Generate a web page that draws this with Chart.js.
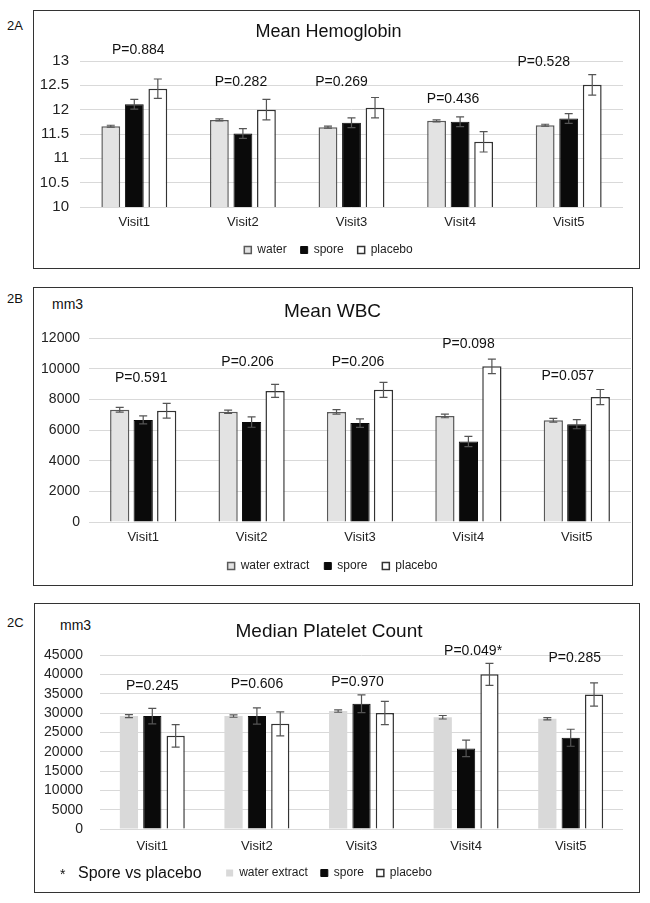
<!DOCTYPE html>
<html>
<head>
<meta charset="utf-8">
<script src="https://cdn.jsdelivr.net/npm/chart.js@4.4.1/dist/chart.umd.min.js"></script>
<style>
  body { margin: 0; background: #fff; font-family: 'Liberation Sans', Arial, sans-serif; color: #111; }
  .panel { position: absolute; border: 1px solid #333; }
  .panel canvas { display: block; }
  .txt { position: absolute; white-space: nowrap; line-height: 1; }
</style>
</head>
<body>
<div class="txt" style="left:7px;top:19px;font-size:13px">2A</div>
<div class="panel" style="left:33px;top:10px;width:605px;height:257px"><canvas id="chartA" width="605" height="257"></canvas></div>

<div class="txt" style="left:7px;top:292px;font-size:13px">2B</div>
<div class="txt" style="left:52px;top:297px;font-size:14px">mm3</div>
<div class="panel" style="left:33px;top:287px;width:598px;height:297px"><canvas id="chartB" width="598" height="297"></canvas></div>

<div class="txt" style="left:7px;top:616px;font-size:13px">2C</div>
<div class="txt" style="left:60px;top:618px;font-size:14px">mm3</div>
<div class="panel" style="left:34px;top:603px;width:604px;height:288px"><canvas id="chartC" width="604" height="288"></canvas></div>
<div class="txt" style="left:60px;top:867px;font-size:14px">*</div>
<div class="txt" style="left:78px;top:865px;font-size:16px">Spore vs placebo</div>

<script>
var visits = ['Visit1', 'Visit2', 'Visit3', 'Visit4', 'Visit5'];

// 2A Mean Hemoglobin
var hbWater = [11.66, 11.79, 11.64, 11.77, 11.68];
var hbWaterErr = [0.02, 0.02, 0.02, 0.02, 0.02];
var hbSpore = [12.11, 11.51, 11.73, 11.75, 11.82];
var hbSporeErr = [0.1, 0.1, 0.1, 0.1, 0.1];
var hbPlacebo = [12.43, 12.0, 12.04, 11.34, 12.51];
var hbPlaceboErr = [0.2, 0.21, 0.21, 0.21, 0.21];
var hbTicks = [10, 10.5, 11, 11.5, 12, 12.5, 13];
var hbP = ['P=0.884', 'P=0.282', 'P=0.269', 'P=0.436', 'P=0.528'];

// 2B Mean WBC
var wbcWater = [7320, 7190, 7180, 6920, 6640];
var wbcWaterErr = [150, 100, 150, 120, 120];
var wbcSpore = [6660, 6520, 6450, 5250, 6380];
var wbcSporeErr = [260, 340, 280, 330, 300];
var wbcPlacebo = [7260, 8550, 8620, 10150, 8150];
var wbcPlaceboErr = [480, 420, 490, 470, 490];
var wbcTicks = [0, 2000, 4000, 6000, 8000, 10000, 12000];
var wbcP = ['P=0.591', 'P=0.206', 'P=0.206', 'P=0.098', 'P=0.057'];

// 2C Median Platelet Count
var pltWater = [29200, 29200, 30500, 28900, 28500];
var pltWaterErr = [400, 300, 300, 450, 300];
var pltSpore = [29200, 29200, 32400, 20850, 23600];
var pltSporeErr = [2000, 2100, 2300, 2150, 2200];
var pltPlacebo = [24100, 27200, 30000, 40000, 34800];
var pltPlaceboErr = [2900, 3100, 3000, 2850, 3000];
var pltTicks = [0, 5000, 10000, 15000, 20000, 25000, 30000, 35000, 40000, 45000];
var pltP = ['P=0.245', 'P=0.606', 'P=0.970', 'P=0.049*', 'P=0.285'];

Chart.defaults.font.family = "'Liberation Sans', Arial, sans-serif";
Chart.defaults.color = '#222';

// error bars + p-value labels
function extras(pText, pY, pShift) {
  return {
    id: 'extras',
    afterDatasetsDraw: function(chart) {
      var ctx = chart.ctx;
      var y = chart.scales.y, x = chart.scales.x;
      ctx.save();
      ctx.strokeStyle = '#555';
      ctx.lineWidth = 1.2;
      chart.data.datasets.forEach(function(ds, i) {
        chart.getDatasetMeta(i).data.forEach(function(bar, j) {
          var top = y.getPixelForValue(ds.data[j] + ds.errors[j]);
          var bot = y.getPixelForValue(ds.data[j] - ds.errors[j]);
          ctx.beginPath();
          ctx.moveTo(bar.x, top); ctx.lineTo(bar.x, bot);
          ctx.moveTo(bar.x - 4, top); ctx.lineTo(bar.x + 4, top);
          ctx.moveTo(bar.x - 4, bot); ctx.lineTo(bar.x + 4, bot);
          ctx.stroke();
        });
      });
      ctx.fillStyle = '#111';
      ctx.font = "14px 'Liberation Sans', Arial, sans-serif";
      ctx.textAlign = 'center';
      ctx.textBaseline = 'middle';
      pText.forEach(function(t, j) {
        ctx.fillText(t, x.getPixelForValue(j) + pShift[j], y.getPixelForValue(pY[j]));
      });
      ctx.restore();
    }
  };
}

function makeChart(id, c) {
  var waterStyle = c.waterBorder
    ? { backgroundColor: '#e3e3e3', borderColor: '#5a5a5a', borderWidth: 1.5 }
    : { backgroundColor: '#d9d9d9', borderColor: '#d9d9d9', borderWidth: 0 };
  return new Chart(document.getElementById(id), {
    type: 'bar',
    data: {
      labels: visits,
      datasets: [
        Object.assign({ label: c.waterLabel, data: c.water, errors: c.waterErr }, waterStyle),
        { label: 'spore', data: c.spore, errors: c.sporeErr,
          backgroundColor: '#0a0a0a', borderColor: '#0a0a0a', borderWidth: 1 },
        { label: 'placebo', data: c.placebo, errors: c.placeboErr,
          backgroundColor: '#ffffff', borderColor: '#333', borderWidth: 1.5 }
      ]
    },
    options: {
      responsive: false,
      animation: false,
      categoryPercentage: c.catPct,
      barPercentage: c.barPct,
      layout: { padding: { left: 0, right: c.padRight, top: 0, bottom: c.padBottom } },
      plugins: {
        title: { display: true, text: c.title, color: '#111',
          font: { size: c.titleSize, weight: 'normal' }, padding: c.titlePad },
        legend: { position: 'bottom',
          labels: { boxWidth: 7, boxHeight: 7, padding: c.legendPad, color: '#222', font: { size: 12 } } },
        tooltip: { enabled: false }
      },
      scales: {
        x: {
          grid: { display: false, drawTicks: false },
          border: { display: false },
          afterFit: function(s) { s.height = c.xHeight; },
          ticks: { padding: c.xPad, font: { size: 13 }, color: '#222' }
        },
        y: {
          min: c.yTicks[0], max: c.yTicks[c.yTicks.length - 1],
          grid: { color: '#d9d9d9', drawTicks: false },
          border: { display: false },
          afterBuildTicks: function(s) { s.ticks = c.yTicks.map(function(v) { return { value: v }; }); },
          afterFit: function(s) { s.width = c.yWidth; },
          ticks: { padding: c.yPad, font: { size: c.tickSize }, color: '#222', autoSkip: false,
            callback: function(v) { return String(v); } }
        }
      }
    },
    plugins: [extras(c.pText, c.pY, c.pShift)]
  });
}

makeChart('chartA', {
  title: 'Mean Hemoglobin', waterLabel: 'water', waterBorder: true,
  water: hbWater, waterErr: hbWaterErr, spore: hbSpore, sporeErr: hbSporeErr,
  placebo: hbPlacebo, placeboErr: hbPlaceboErr, yTicks: hbTicks,
  pText: hbP, pY: [13.23, 12.57, 12.57, 12.22, 12.98], pShift: [4, -2, -10, -7, -25],
  catPct: 0.65, barPct: 0.8, padRight: 16, padBottom: 2, yWidth: 46, yPad: 11,
  tickSize: 15, titleSize: 18, titlePad: { top: 10.2, bottom: 18.2 },
  xPad: 7.2, xHeight: 23, legendPad: 14
});

makeChart('chartB', {
  title: 'Mean WBC', waterLabel: 'water extract', waterBorder: true,
  water: wbcWater, waterErr: wbcWaterErr, spore: wbcSpore, sporeErr: wbcSporeErr,
  placebo: wbcPlacebo, placeboErr: wbcPlaceboErr, yTicks: wbcTicks,
  pText: wbcP, pY: [9390, 10430, 10430, 11610, 9520], pShift: [-2, -4, -2, 0, -9],
  catPct: 0.65, barPct: 0.82, padRight: 1, padBottom: 3, yWidth: 55, yPad: 9,
  tickSize: 14, titleSize: 19, titlePad: { top: 12.6, bottom: 14.6 },
  xPad: 7.2, xHeight: 23, legendPad: 15
});

makeChart('chartC', {
  title: 'Median Platelet Count', waterLabel: 'water extract', waterBorder: false,
  water: pltWater, waterErr: pltWaterErr, spore: pltSpore, sporeErr: pltSporeErr,
  placebo: pltPlacebo, placeboErr: pltPlaceboErr, yTicks: pltTicks,
  pText: pltP, pY: [36980, 37500, 38010, 46030, 44220], pShift: [0, 0, -4, 7, 4],
  catPct: 0.67, barPct: 0.78, padRight: 16, padBottom: 3, yWidth: 65, yPad: 17,
  tickSize: 14, titleSize: 19, titlePad: { top: 16.6, bottom: 11.6 },
  xPad: 9.2, xHeight: 25, legendPad: 13
});
</script>
</body>
</html>
